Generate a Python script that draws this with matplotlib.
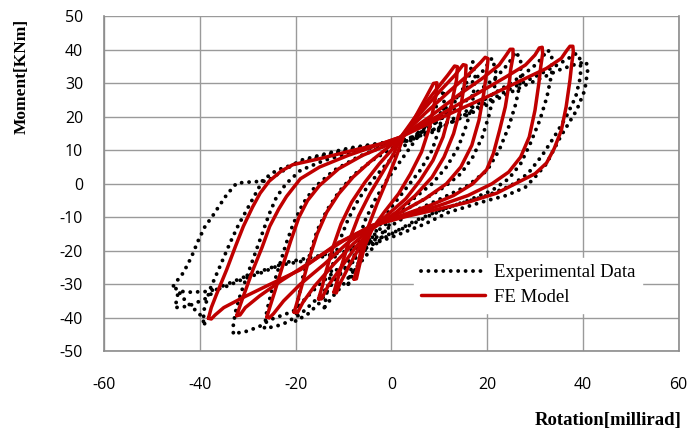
import matplotlib.pyplot as plt

plt.rcParams['axes.unicode_minus'] = False

# FE model loops (rotation [millirad], moment [kNm])
fe_loop_1 = [(-38.2, -40.2), (-37.6, -37), (-36.5, -33), (-34.4, -25.7), (-32.5, -18.5), (-30.9, -12.7), (-29, -7),
             (-27.4, -2.8), (-25.5, 0.8), (-23, 3.8), (-20.6, 5.7), (-15, 7.5), (-8, 10), (-2, 12), (2, 14),
             (10, 19.5), (20, 26), (28, 31.5), (32.4, 34.5), (35.5, 37.5), (36.6, 39.8), (37.3, 41.1), (37.9, 41.1),
             (38, 39.5), (37.6, 35), (37.3, 31), (36.5, 23), (35.5, 16), (34, 10.5), (32.4, 6.2), (30, 3),
             (27.5, 1.2), (22, -2.8), (16, -5.5), (10, -7.5), (3, -9.8), (-4, -12.5), (-11, -17.6), (-19, -25.7),
             (-26, -30.5), (-31, -34), (-35, -37), (-36.8, -39.2), (-37.6, -40.4), (-38.2, -40.2)]
fe_loop_2 = [(-32.3, -39.4), (-31.5, -36), (-30.5, -32), (-28.9, -25.7), (-27, -19), (-25.4, -12.7), (-23.5, -7.5),
             (-21.9, -3.8), (-19, 1.5), (-15, 5), (-9, 8.5), (-3, 11.5), (2, 14), (10, 20.5), (18, 27), (24, 32),
             (28, 35.5), (30, 38.5), (30.9, 40.6), (31.5, 40.8), (31.6, 39), (31.2, 35), (30.8, 30), (30, 22),
             (28.8, 14), (27, 8), (24.5, 3.5), (21, 0), (16, -3.5), (10, -6.5), (3, -9.5), (-4, -12.5), (-10, -17),
             (-17, -23.5), (-23, -29), (-27.5, -33.5), (-30.5, -37), (-31.6, -39.2), (-32.3, -39.4)]
fe_loop_3 = [(-26, -39.8), (-25.3, -36.5), (-24.3, -32), (-22.8, -25), (-21, -17), (-19.3, -10), (-17.5, -5),
             (-15, -0.5), (-11, 4.5), (-6, 8.5), (-1, 11.5), (2, 14), (8, 20), (14, 26.5), (19, 31.5), (22.5, 35.5),
             (24, 38.5), (24.8, 40.2), (25.4, 40.2), (25.4, 38), (24.9, 34), (24.7, 31), (23.8, 23), (22.6, 16),
             (21.3, 9), (19.9, 4.2), (17, 0), (13, -3.5), (8, -6.5), (2, -9.5), (-4, -12.5), (-9, -17.5),
             (-14, -24), (-19, -30), (-22.5, -35), (-24.6, -38.8), (-25.5, -40.1), (-26, -39.8)]
fe_loop_4 = [(-20.3, -38.4), (-19.6, -35), (-18.8, -31), (-17.3, -23), (-15.5, -15), (-13.5, -8.5), (-11, -3),
             (-8, 2), (-4.5, 6.5), (-1, 10.5), (2, 14), (7, 21), (12, 27.5), (16, 32.5), (18.6, 36.2), (19.6, 37.8),
             (20.2, 37.4), (20, 34.5), (19.3, 27), (18.3, 19), (16.8, 11.5), (14.5, 5), (11.5, 0), (7, -4.5),
             (2, -8.5), (-4, -13), (-8, -18), (-12, -24), (-16, -30.5), (-18.5, -35.5), (-19.6, -38.5),
             (-20.3, -38.4)]
fe_loop_5 = [(-15.2, -34.4), (-14.5, -31), (-13.8, -27), (-12.2, -19), (-10.5, -12), (-8.3, -5.5), (-5.5, 0.5),
             (-2.5, 6), (0, 10), (2, 14), (6, 21), (10, 27.5), (13.3, 32.5), (15, 35.6), (15.6, 35.4), (15.5, 32),
             (14.5, 23), (13, 15), (11, 8), (8.5, 2), (5, -3.5), (1, -8.5), (-4, -13.5), (-7.5, -19), (-10.5, -25),
             (-13.2, -30.5), (-14.6, -34.4), (-15.2, -34.4)]
fe_loop_6 = [(-12, -32.4), (-11.3, -29), (-10.5, -25), (-8.8, -17), (-6.8, -9.5), (-4.5, -3), (-2, 3), (0.5, 9),
             (2, 14), (5.5, 21), (9, 27.5), (11.8, 32.5), (13.2, 35.2), (13.8, 35), (13.6, 31), (12.3, 22),
             (10.8, 14), (8.7, 7), (6, 1), (3, -4.5), (-1, -9.5), (-4, -13.5), (-6.5, -18.5), (-9, -25), (-10.8, -30),
             (-11.5, -32.6), (-12, -32.4)]
fe_loop_7 = [(-7.8, -28.5), (-7, -24.5), (-6.5, -21), (-5, -13.5), (-3, -6), (-0.8, 1.5), (1, 8), (2.5, 14), (5, 20),
             (7.3, 26), (8.8, 30), (9.5, 30.2), (9.4, 27), (8, 17), (6.3, 9.5), (4, 3), (1.5, -3), (-1.5, -8.5),
             (-4, -13.5), (-5.5, -18.5), (-6.6, -24), (-7.3, -28.4), (-7.8, -28.5)]

# Experimental loops
exp_loop_1 = [(-45.5, -30.5), (-44.5, -28.5), (-43.5, -26.7), (-42.5, -24), (-41.7, -21.7), (-40.4, -17.2),
              (-38.9, -12.7), (-37.5, -10), (-36.5, -7.8), (-34.4, -3.3), (-32.3, 0.2), (-29, 0.6), (-26, 0.8),
              (-22.5, 4), (-19, 7), (-15, 8.5), (-12, 9.6), (-8.7, 10.7), (-3, 12), (2, 13), (6, 14.5), (12, 18),
              (18, 22), (23, 26), (28, 29.5), (32, 32), (35, 34), (38, 35.5), (40.7, 36.5), (41, 34), (40.4, 28),
              (38.7, 22), (37, 18), (35.3, 14), (32.4, 6), (30, 2), (28, -1), (24, -3.5), (20, -5), (12, -8.5),
              (7, -12), (0, -16), (-6, -19), (-12, -21), (-18, -23), (-24, -24.5), (-31, -28), (-36, -31),
              (-39, -34.5), (-40.7, -35.5), (-42.4, -36.6), (-45.2, -37), (-44.8, -34.6), (-44.5, -32.1),
              (-45.5, -30.5)]
exp_loop_2 = [(-39, -41.8), (-39.3, -38.6), (-37.9, -31.6), (-35.8, -24.7), (-33.7, -17.7), (-32, -12.5),
              (-30.2, -7.8), (-28.1, -2.3), (-26.8, 1.2), (-24, 4), (-20, 6), (-14, 8.5), (-8, 10.5), (-2, 12),
              (3, 13), (8, 15), (14, 19.5), (20, 24.5), (25, 28.5), (30, 32), (34, 35), (37, 37.5), (38.7, 39),
              (39.5, 37), (39.5, 32), (38.5, 26), (36.5, 20), (34, 14), (31.5, 8.5), (28.5, 3), (25, -0.5),
              (20, -3.5), (13, -6.5), (8, -9.5), (3, -13), (-2, -16), (-8, -19), (-15, -21.5), (-22, -23.5),
              (-27, -26.5), (-31, -28.5), (-35, -31), (-38.6, -32.2), (-42.5, -32.4), (-44.5, -32), (-43, -35),
              (-40, -39), (-39, -41.8)]
exp_loop_3 = [(-33, -44.5), (-33, -42), (-32.5, -38), (-31.5, -33), (-30, -27), (-28.5, -21), (-27, -15),
              (-25.5, -9), (-24, -4), (-22, 0), (-19, 4), (-14, 7), (-8, 9.5), (-2, 11.5), (4, 13), (10, 17),
              (16, 22), (22, 27.5), (27, 32), (30.5, 36), (32.7, 40), (33.5, 38), (33.5, 33), (32.5, 26), (31, 19),
              (29, 12), (27, 6), (24.5, 1.5), (21, -2), (16, -5), (10, -8), (5, -11), (0, -15), (-5, -19),
              (-10, -24), (-15, -30), (-20.5, -38.1), (-22.6, -39.2), (-25.3, -40.6), (-27.5, -42.6), (-30, -44),
              (-31.6, -44.5), (-33, -44.5)]
exp_loop_4 = [(-26.5, -43), (-26, -38), (-25, -32), (-23.5, -25), (-22, -18), (-20.5, -12), (-18.5, -6), (-16, -1),
              (-12, 4), (-7, 8), (-2, 11), (3, 13), (8, 17), (13, 22), (18, 27.5), (22, 32), (24.5, 36), (26, 39.5),
              (27, 37), (27, 31), (26, 24), (24.5, 17), (22.5, 10), (20, 4), (16, -0.5), (11, -4), (5, -8),
              (0, -12.5), (-4, -17), (-8, -23), (-12, -29), (-16, -35), (-19, -39), (-22, -41.5), (-24.5, -42.8),
              (-26.5, -43)]
exp_loop_5 = [(-20, -41), (-19.5, -35), (-18.5, -28), (-17, -21), (-15.5, -14), (-13.5, -8), (-11, -2.5), (-8, 2.5),
              (-4, 7), (0, 10.5), (4, 13.5), (8, 18), (12, 23.5), (16, 29), (19, 33.5), (21, 37.5), (21.8, 34),
              (21.5, 28), (20.5, 21), (19, 14), (17, 8), (14.5, 3), (11, -1), (7, -4.5), (2, -8.5), (-2, -13),
              (-5.5, -18), (-9, -24), (-12.2, -29.5), (-15, -35.6), (-17.5, -39), (-20, -41)]
exp_loop_6 = [(-14, -37), (-13.3, -31), (-12.2, -24), (-10.8, -17), (-9, -10.5), (-6.8, -4.5), (-4, 1), (-1, 6),
              (2, 10.5), (5, 14), (9, 18), (11.5, 21), (14, 26), (16, 31), (17, 36.5), (17.5, 32), (17, 25),
              (15.8, 18), (14, 11), (11.5, 5), (8.5, 0), (5, -4), (1, -9), (-2.4, -16.7), (-5, -21), (-7.3, -25),
              (-10, -30), (-12.2, -33.6), (-14, -37)]
exp_loop_7 = [(-9, -30), (-8.2, -24), (-7, -17.5), (-5.5, -11), (-3.5, -5), (-1, 1), (2, 7), (4.5, 12), (7, 17),
              (9, 22), (11, 28), (11, 23), (10, 16.5), (8.5, 10), (6, 4), (3, -1.5), (0, -7), (-2.5, -12.5),
              (-5, -18.5), (-7.2, -24.5), (-9, -30)]

exp_loops = [exp_loop_1, exp_loop_2, exp_loop_3, exp_loop_4, exp_loop_5, exp_loop_6, exp_loop_7]
fe_loops = [fe_loop_1, fe_loop_2, fe_loop_3, fe_loop_4, fe_loop_5, fe_loop_6, fe_loop_7]

fig = plt.figure(figsize=(6.89, 4.34), dpi=100)
ax = fig.add_axes([0.151, 0.191, 0.834, 0.771])

grid_c = '#9a9a9a'
for i, loop in enumerate(exp_loops):
    xs = [p[0] for p in loop]
    ys = [p[1] for p in loop]
    ax.plot(xs, ys, color='black', lw=2.8, linestyle=(0, (0.01, 1.9)), dash_capstyle='round',
            label='Experimental Data' if i == 0 else None, zorder=3)
for i, loop in enumerate(fe_loops):
    xs = [p[0] for p in loop]
    ys = [p[1] for p in loop]
    ax.plot(xs, ys, color='#c00000', lw=2.5, solid_joinstyle='round', solid_capstyle='round',
            label='FE Model' if i == 0 else None, zorder=4)

ax.set_xlim(-60, 60)
ax.set_ylim(-50, 50)
ax.set_xticks(range(-60, 61, 20))
ax.set_yticks(range(-50, 51, 10))
ax.grid(True, color=grid_c, lw=1.0)
ax.set_axisbelow(True)
ax.spines['top'].set_visible(False)
for side in ['left', 'bottom', 'right']:
    ax.spines[side].set_color('#8c8c8c')
    ax.spines[side].set_linewidth(1.2)
ax.tick_params(length=0, labelsize=11.5)
ax.tick_params(axis='y', pad=15)
ax.tick_params(axis='x', pad=19)
for lab in ax.get_xticklabels() + ax.get_yticklabels():
    lab.set_fontfamily('Open Sans')

fig.text(0.032, 1 - 76 / 434, 'Moment[KNm]', rotation=90, ha='center', va='center',
         fontfamily='Liberation Serif', fontweight='bold', fontsize=12.5)
fig.text(608 / 689, 1 - 421 / 434, 'Rotation[millirad]', ha='center', va='center',
         fontfamily='Liberation Serif', fontweight='bold', fontsize=13.5)

leg = ax.legend(loc='center', bbox_to_anchor=(0.738, 0.197), frameon=True, fancybox=False,
                prop={'family': 'Liberation Serif', 'size': 13.5}, handlelength=3.4,
                borderpad=0.35, labelspacing=0.4, handletextpad=0.5, borderaxespad=0)
leg.get_frame().set_edgecolor('white')
leg.get_frame().set_facecolor('white')
leg.get_frame().set_alpha(1)

fig.savefig('out.png', dpi=100)
